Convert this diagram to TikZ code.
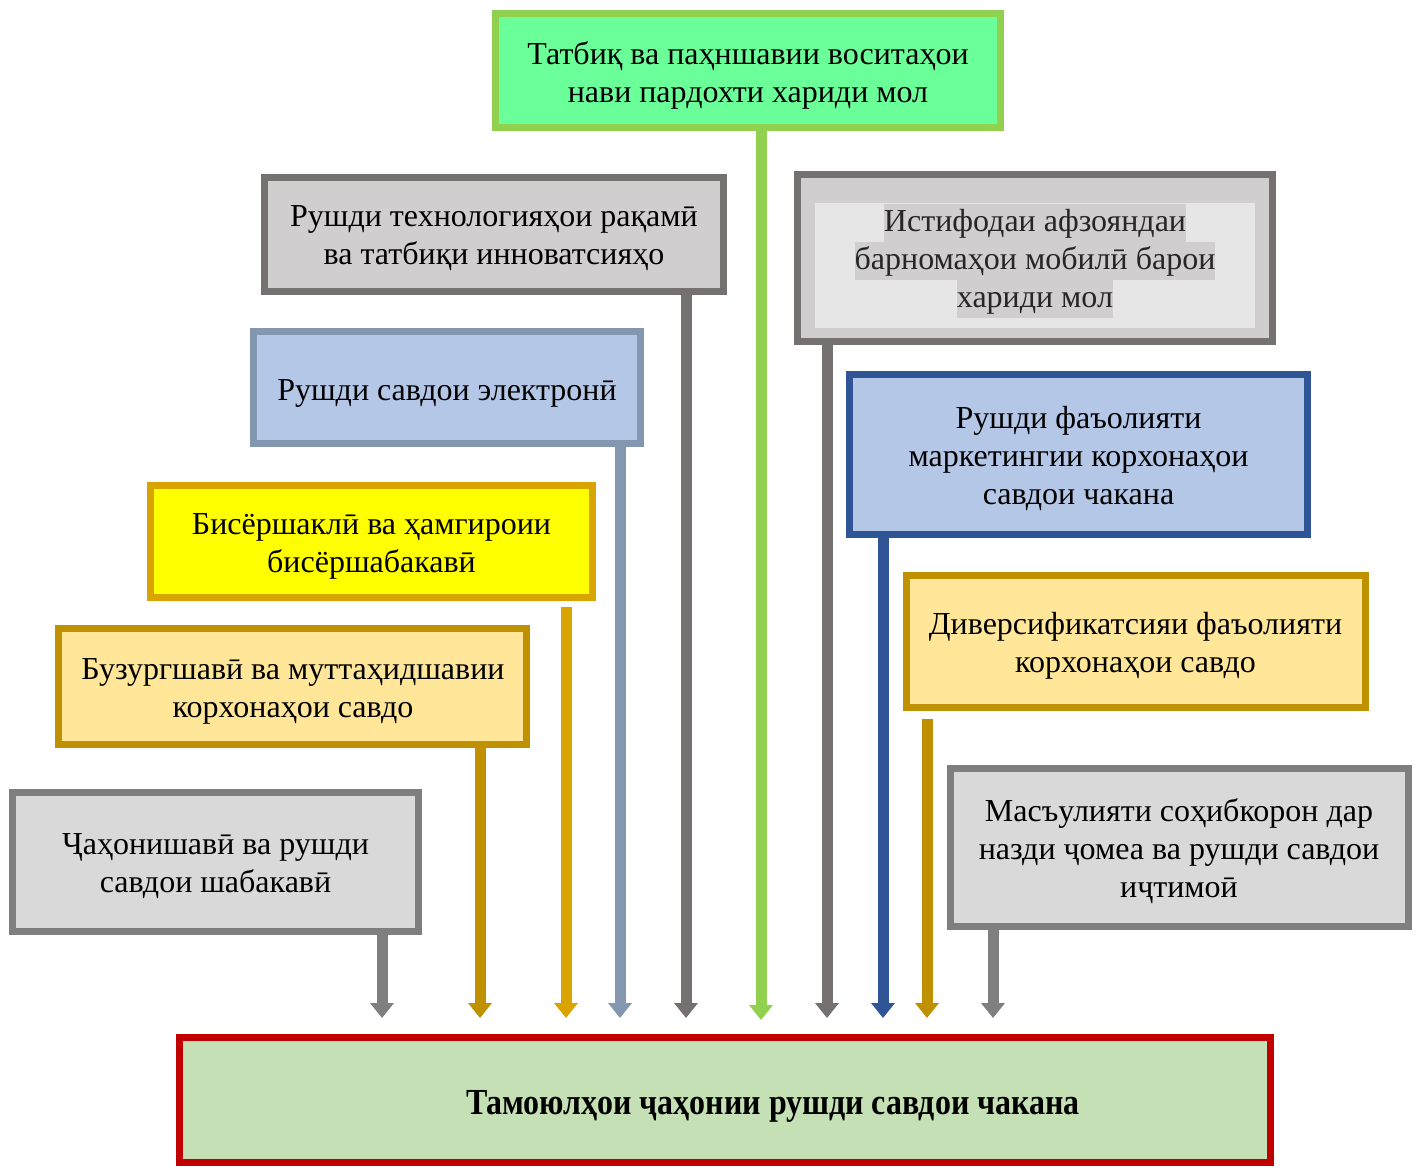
\documentclass[tikz,border=0pt]{standalone}
\usepackage{fontspec}
\setmainfont{Liberation Serif}
\usetikzlibrary{arrows.meta}
\definecolor{grnB}{HTML}{92D050}
\definecolor{grnF}{HTML}{6BFF99}
\definecolor{gryB}{HTML}{767171}
\definecolor{gryF}{HTML}{D0CECE}
\definecolor{gryI}{HTML}{E6E6E6}
\definecolor{gr2B}{HTML}{7F7F7F}
\definecolor{gr2F}{HTML}{D9D9D9}
\definecolor{bgB}{HTML}{8497B0}
\definecolor{bluF}{HTML}{B4C7E7}
\definecolor{bluB}{HTML}{2F5597}
\definecolor{ylwB}{HTML}{D9A300}
\definecolor{ylwF}{HTML}{FFFF00}
\definecolor{gldB}{HTML}{BF9000}
\definecolor{gldF}{HTML}{FFE699}
\definecolor{redB}{HTML}{C00000}
\definecolor{botF}{HTML}{C5E0B4}
\definecolor{txtG}{HTML}{262626}
\newcommand{\hlline}[1]{{\setlength{\fboxsep}{0pt}\colorbox{gryF}{\rule[-5.4pt]{0pt}{19pt}#1}}}
\begin{document}
\begin{tikzpicture}[x=0.5pt,y=-0.5pt,
  box/.style={draw,line width=3.5pt,inner sep=0pt},
  txt/.style={align=center,inner sep=0pt,font=\fontsize{16}{19}\selectfont},
  arr/.style={line width=5.5pt,-{Triangle[width=11.5pt,length=7.5pt]}}]
\useasboundingbox (0,0) rectangle (1424,1169);
% arrow end points
\coordinate (e1) at (382,1018);
\coordinate (e2) at (480,1018);
\coordinate (e3) at (566,1018);
\coordinate (e4) at (620,1018);
\coordinate (e5) at (686,1018);
\coordinate (e6) at (761,1020);
\coordinate (e7) at (827,1018);
\coordinate (e8) at (883,1018);
\coordinate (e9) at (927,1018);
\coordinate (e10) at (993,1018);
% boxes
\node[box,draw=grnB,fill=grnF,minimum width=252.5pt,minimum height=57pt] (b1) at (748,70.5) {};
\node[box,draw=gryB,fill=gryF,minimum width=229.5pt,minimum height=57pt] (b2) at (494,234.5) {};
\node[box,draw=gryB,fill=gryF,minimum width=237.5pt,minimum height=83.5pt] (b3) at (1035,258) {};
\node[fill=gryI,inner sep=0pt,minimum width=220pt,minimum height=62.5pt] (b3i) at (1035,265.5) {};
\node[box,draw=bgB,fill=bluF,minimum width=193.5pt,minimum height=56pt] (b4) at (447,387.5) {};
\node[box,draw=bluB,fill=bluF,minimum width=229pt,minimum height=80pt] (b5) at (1078.5,454.5) {};
\node[box,draw=ylwB,fill=ylwF,minimum width=221pt,minimum height=56pt] (b6) at (371.5,541.5) {};
\node[box,draw=gldB,fill=gldF,minimum width=229.5pt,minimum height=66pt] (b7) at (1136,641.5) {};
\node[box,draw=gldB,fill=gldF,minimum width=234pt,minimum height=58pt] (b8) at (292.5,686.5) {};
\node[box,draw=gr2B,fill=gr2F,minimum width=203pt,minimum height=69.5pt] (b9) at (215.5,862) {};
\node[box,draw=gr2B,fill=gr2F,minimum width=229pt,minimum height=79pt] (b10) at (1179.5,847.5) {};
\node[box,draw=redB,fill=botF,minimum width=545.5pt,minimum height=62.5pt] (b11) at (725,1100) {};
% texts
\node[txt] (t1) at (748,75) {Татбиқ ва паҳншавии воситаҳои\\нави пардохти хариди мол};
\node[txt] (t2) at (494,238.5) {Рушди технологияҳои рақамӣ\\ва татбиқи инноватсияҳо};
\node[txt,text=txtG] (t3) at (1035,261)
  {\hlline{Истифодаи афзояндаи}\\\hlline{барномаҳои мобилӣ барои}\\\hlline{хариди мол}};
\node[txt] (t4) at (447,393) {Рушди савдои электронӣ};
\node[txt] (t5) at (1078.5,458) {Рушди фаъолияти\\маркетингии корхонаҳои\\савдои чакана};
\node[txt] (t6) at (371.5,546) {Бисёршаклӣ ва ҳамгироии\\бисёршабакавӣ};
\node[txt] (t7) at (1135.5,645.5) {Диверсификатсияи фаъолияти\\корхонаҳои савдо};
\node[txt] (t8) at (293,691) {Бузургшавӣ ва муттаҳидшавии\\корхонаҳои савдо};
\node[txt] (t9) at (215.5,866) {Ҷаҳонишавӣ ва рушди\\савдои шабакавӣ};
\node[txt] (t10) at (1179,851) {Масъулияти соҳибкорон дар\\назди ҷомеа ва рушди савдои\\иҷтимоӣ};
\node[inner sep=0pt,font=\fontsize{17}{20}\selectfont\bfseries] (t11) at (773,1106)
  {\scalebox{0.94}[1.08]{Тамоюлҳои ҷаҳонии рушди савдои чакана}};
% arrows
\draw[arr,gr2B] (b9.south -| e1) -- (e1);
\draw[arr,gldB] (b8.south -| e2) -- (e2);
\draw[arr,ylwB,shorten <=3pt] (b6.south -| e3) -- (e3);
\draw[arr,bgB] (b4.south -| e4) -- (e4);
\draw[arr,gryB] (b2.south -| e5) -- (e5);
\draw[arr,grnB] (b1.south -| e6) -- (e6);
\draw[arr,gryB] (b3.south -| e7) -- (e7);
\draw[arr,bluB] (b5.south -| e8) -- (e8);
\draw[arr,gldB,shorten <=4pt] (b7.south -| e9) -- (e9);
\draw[arr,gr2B] (b10.south -| e10) -- (e10);
\end{tikzpicture}
\end{document}
